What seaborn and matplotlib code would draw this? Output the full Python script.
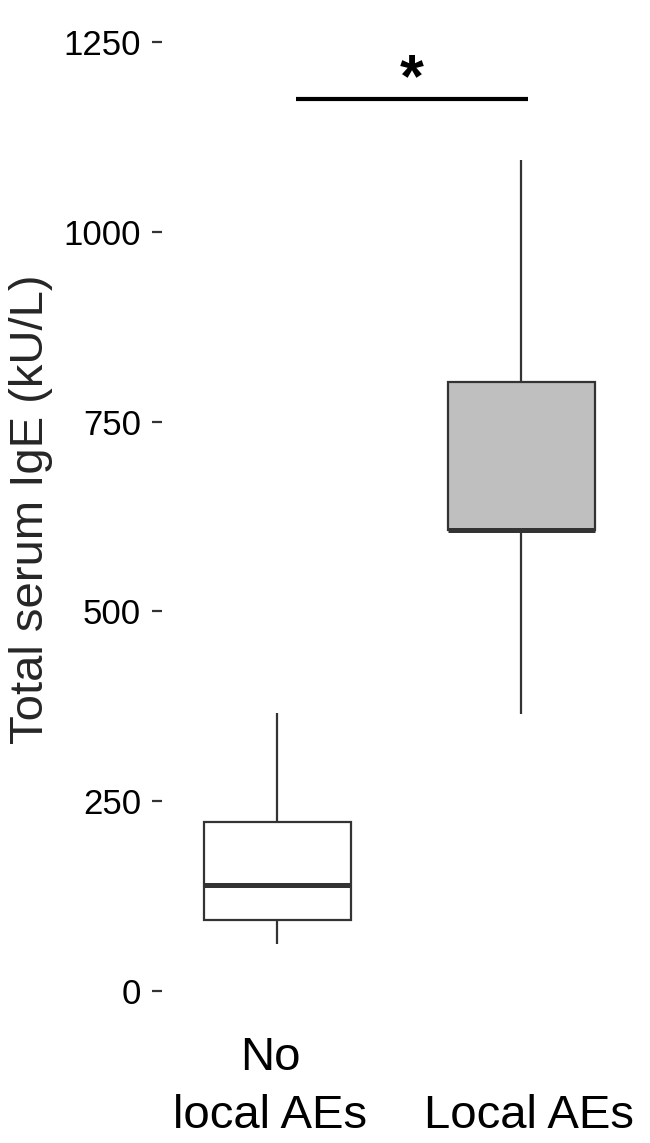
import numpy as np
import pandas as pd
import matplotlib
matplotlib.use("Agg")
import matplotlib.pyplot as plt
import matplotlib.transforms as mtransforms
import seaborn as sns

# --- datos (min, Q1, mediana, Q3, max) ---
grupos = ["No\nlocal AEs", "Local AEs"]
ige_no_local = [61, 93, 139, 222, 366]
ige_local = [364, 607, 607, 802, 1095]
colores_caja = ["#FFFFFF", "#BFBFBF"]
y_ticks = [0, 250, 500, 750, 1000, 1250]
y_barra_sig = 1175
texto_sig = "*"

df = pd.DataFrame({
    "grupo": [grupos[0]] * len(ige_no_local) + [grupos[1]] * len(ige_local),
    "ige": ige_no_local + ige_local,
})

sns.set_style("white")
plt.rcParams["font.family"] = ["Liberation Sans", "DejaVu Sans"]

fig = plt.figure(figsize=(6.5, 11.43), dpi=100)
ax = fig.add_axes([162 / 650, 0.1068, (640 - 162) / 650, 0.8696])

sns.boxplot(
    data=df, x="grupo", y="ige", hue="grupo", order=grupos, hue_order=grupos,
    palette=colores_caja, legend=False, width=0.6, whis=np.inf,
    showcaps=False, linecolor="#333333", linewidth=1.6,
    medianprops={"linewidth": 3.6, "color": "#333333"},
    ax=ax,
)

# barra de significancia
ax.plot([0.076, 1.027], [y_barra_sig, y_barra_sig], color="black", lw=3, solid_capstyle="butt")
ax.text(0.55, y_barra_sig - 14, texto_sig, ha="center", va="bottom",
        fontsize=44, fontweight="bold", color="black")

ax.set_xlim(-0.473, 1.486)
ax.set_ylim(-40, 1270)
ax.set_yticks(y_ticks)
ax.set_yticklabels([str(v) for v in y_ticks])
ax.set_xlabel("")
ax.set_ylabel("Total serum IgE (kU/L)", fontsize=34, labelpad=8)
ax.yaxis.label.set_y(0.515)

ax.tick_params(axis="y", left=True, length=7, width=1.6, color="#333333",
               labelsize=25, labelcolor="black", pad=8)
ax.tick_params(axis="x", bottom=False, labelsize=34, labelcolor="black", pad=80.5)

# etiquetas del eje x algo desplazadas, como en la figura original
desplazamientos = [-7, 8]
for lab, dx in zip(ax.get_xticklabels(), desplazamientos):
    lab.set_va("bottom")
    lab.set_linespacing(1.4)
    lab.set_transform(lab.get_transform() + mtransforms.ScaledTranslation(dx / 100, 0, fig.dpi_scale_trans))

sns.despine(ax=ax, left=True, bottom=True)

fig.savefig("out.png", dpi=100)
